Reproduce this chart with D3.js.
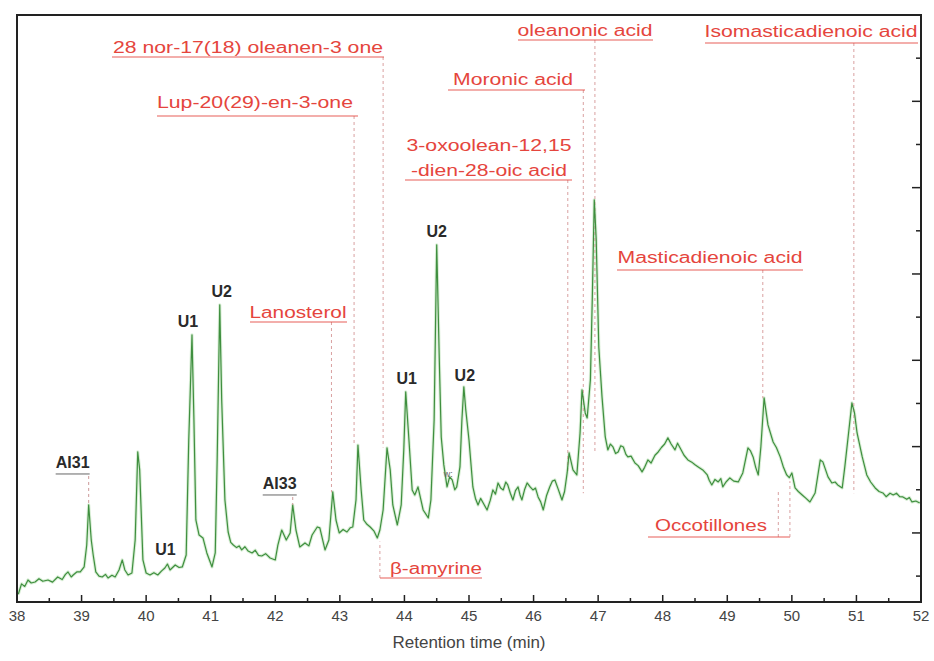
<!DOCTYPE html>
<html>
<head>
<meta charset="utf-8">
<script src="https://cdn.jsdelivr.net/npm/d3@7/dist/d3.min.js"></script>
<style>
  html, body { margin: 0; padding: 0; background: #fff; }
  svg { display: block; font-family: "Liberation Sans", Arial, sans-serif; }
</style>
</head>
<body>
<svg id="chart" width="934" height="661"></svg>
<script>
// Retention time (min) of each sample of the chromatogram trace
const times = [
  38.02, 38.07, 38.12, 38.17, 38.22, 38.28, 38.34, 38.40, 38.48, 38.55,
  38.63, 38.70, 38.75, 38.79, 38.84, 38.87, 38.93, 38.98, 39.04, 39.08,
  39.11, 39.15, 39.18, 39.22, 39.27, 39.32, 39.37, 39.41, 39.47, 39.52,
  39.58, 39.63, 39.67, 39.72, 39.78, 39.83, 39.87, 39.90, 39.95, 40.00,
  40.06, 40.12, 40.18, 40.24, 40.29, 40.33, 40.37, 40.45, 40.51, 40.56,
  40.62, 40.66, 40.71, 40.74, 40.77, 40.82, 40.88, 40.94, 41.02, 41.07,
  41.10, 41.14, 41.17, 41.22, 41.27, 41.31, 41.35, 41.40, 41.44, 41.48,
  41.53, 41.58, 41.64, 41.69, 41.74, 41.79, 41.85, 41.92, 42.00, 42.04,
  42.10, 42.17, 42.23, 42.27, 42.32, 42.38, 42.46, 42.52, 42.57, 42.65,
  42.69, 42.77, 42.83, 42.89, 42.94, 42.99, 43.05, 43.11, 43.16, 43.20,
  43.25, 43.28, 43.33, 43.37, 43.42, 43.47, 43.53, 43.58, 43.62, 43.67,
  43.73, 43.78, 43.82, 43.89, 43.95, 43.99, 44.02, 44.07, 44.12, 44.16,
  44.21, 44.29, 44.37, 44.41, 44.46, 44.50, 44.54, 44.57, 44.61, 44.66,
  44.70, 44.74, 44.78, 44.81, 44.86, 44.89, 44.92, 44.95, 45.00, 45.06,
  45.10, 45.14, 45.18, 45.22, 45.28, 45.33, 45.37, 45.41, 45.45, 45.49,
  45.53, 45.57, 45.60, 45.64, 45.68, 45.72, 45.76, 45.79, 45.82, 45.86,
  45.90, 45.95, 45.99, 46.03, 46.07, 46.11, 46.15, 46.20, 46.25, 46.29,
  46.33, 46.38, 46.44, 46.48, 46.52, 46.55, 46.61, 46.67, 46.72, 46.75,
  46.80, 46.83, 46.88, 46.91, 46.94, 46.97, 46.98, 47.01, 47.06, 47.11,
  47.15, 47.19, 47.23, 47.27, 47.31, 47.35, 47.39, 47.43, 47.46, 47.51,
  47.57, 47.62, 47.68, 47.72, 47.77, 47.82, 47.88, 47.93, 47.98, 48.03,
  48.08, 48.13, 48.19, 48.23, 48.27, 48.33, 48.39, 48.45, 48.50, 48.55,
  48.62, 48.69, 48.72, 48.76, 48.81, 48.86, 48.90, 48.93, 48.98, 49.04,
  49.10, 49.17, 49.24, 49.32, 49.36, 49.40, 49.44, 49.48, 49.52, 49.57,
  49.63, 49.71, 49.76, 49.82, 49.87, 49.92, 49.96, 50.00, 50.05, 50.10,
  50.16, 50.22, 50.28, 50.36, 50.44, 50.48, 50.56, 50.62, 50.67, 50.71,
  50.78, 50.82, 50.88, 50.93, 50.97, 51.01, 51.09, 51.16, 51.22, 51.29,
  51.35, 51.41, 51.46, 51.52, 51.57, 51.62, 51.67, 51.72, 51.78, 51.82,
  51.86, 51.92, 51.98
];
// Detector response at each of those times
const intensity = [
  2.90, 4.10, 3.80, 4.55, 4.20, 4.32, 4.70, 4.40, 4.55, 4.30,
  4.90, 4.60, 5.20, 5.48, 4.90, 5.13, 5.50, 5.48, 6.06, 8.60,
  13.24, 9.18, 7.45, 5.48, 5.00, 4.90, 5.20, 4.78, 5.10, 4.90,
  5.71, 6.87, 5.71, 5.13, 5.36, 9.18, 19.38, 17.30, 6.87, 5.36,
  5.13, 5.40, 5.13, 5.60, 5.94, 6.40, 5.71, 6.29, 6.00, 6.06,
  7.45, 20.77, 32.94, 23.09, 11.50, 9.76, 9.42, 7.68, 6.06, 7.68,
  18.46, 36.42, 25.41, 13.82, 10.11, 8.90, 8.60, 8.30, 8.50, 8.03,
  8.40, 7.90, 7.68, 8.00, 7.40, 7.33, 7.60, 7.10, 6.87, 8.60,
  10.34, 9.18, 10.00, 13.24, 10.34, 8.37, 8.84, 8.50, 9.76, 10.69,
  10.58, 8.03, 9.18, 14.75, 11.50, 10.00, 10.40, 10.11, 10.60, 10.69,
  13.82, 20.19, 14.98, 11.50, 11.00, 10.69, 10.20, 9.42, 10.34, 12.66,
  19.85, 17.30, 13.24, 10.92, 13.24, 19.62, 26.34, 20.77, 14.98, 14.40,
  15.33, 12.66, 11.74, 13.82, 23.09, 43.38, 30.05, 21.12, 17.88, 15.33,
  16.50, 16.14, 15.00, 15.33, 17.65, 23.09, 26.92, 24.25, 20.77, 15.33,
  14.00, 13.24, 14.00, 13.47, 12.66, 13.80, 14.98, 14.50, 15.79, 15.20,
  14.98, 15.90, 15.56, 14.60, 13.82, 14.90, 15.33, 14.40, 13.82, 15.00,
  15.79, 15.30, 14.98, 15.20, 14.17, 13.60, 12.66, 14.30, 15.33, 16.00,
  16.14, 15.10, 13.82, 14.80, 16.95, 19.27, 17.30, 16.72, 21.58, 26.57,
  23.90, 23.32, 27.73, 37.35, 48.59, 43.95, 40.83, 31.55, 25.76, 21.12,
  19.62, 20.30, 19.96, 19.20, 19.38, 20.10, 19.96, 19.10, 18.81, 18.90,
  18.11, 17.80, 17.07, 17.60, 18.46, 18.10, 19.00, 19.38, 19.90, 20.30,
  21.01, 20.30, 19.62, 20.40, 19.85, 19.00, 18.46, 18.20, 17.90, 17.65,
  17.30, 16.72, 16.10, 15.56, 16.20, 15.91, 16.30, 15.33, 15.90, 16.37,
  16.00, 15.91, 16.95, 19.85, 19.50, 18.81, 17.60, 16.72, 19.96, 25.64,
  22.51, 20.54, 19.90, 18.81, 17.60, 16.72, 16.40, 16.95, 15.21, 14.80,
  14.40, 14.00, 13.59, 14.63, 18.46, 18.23, 16.49, 15.79, 15.90, 15.56,
  15.21, 17.65, 21.70, 25.06, 23.90, 21.58, 18.81, 16.72, 15.90, 15.21,
  14.80, 14.63, 14.20, 14.60, 14.40, 14.60, 14.20, 14.17, 13.90, 14.10,
  13.59, 13.70, 13.47
];

// Axis ticks
const xTicks = d3.range(38, 52.01, 1);
const xMinorTicks = d3.range(38.5, 52, 1);
const yTicks = d3.range(10, 70, 10);
const yMinorTicks = d3.range(5, 70, 10);

// Identified compounds: name lines and retention time of the marked peak
const compoundNames = [
  ["28 nor-17(18) oleanen-3 one"],
  ["Lup-20(29)-en-3-one"],
  ["Lanosterol"],
  ["3-oxoolean-12,15", "-dien-28-oic acid"],
  ["Moronic acid"],
  ["oleanonic acid"],
  ["Isomasticadienoic acid"],
  ["Masticadienoic acid"],
  ["β-amyrine"],
  ["Occotillones"]
];
const compoundTimes = [43.67, 43.22, 42.87, 46.53, 46.77, 46.95, 50.96, 49.55, 43.62, 49.79];
const compoundLineEnd = [19.9, 20.2, 14.7, 16.9, 14.6, 19.3, 14.6, 25.6, 9.0, 15.0];

// Peak markers drawn in black
const peakNames = ["AI31", "AI33", "U1", "U1", "U2", "U1", "U2", "U2"];
const peakTimes = [39.11, 42.27, 40.30, 40.71, 41.14, 44.02, 44.50, 44.92];
const peakHeights = [13.24, 13.24, 8.1, 32.94, 36.42, 26.34, 43.38, 26.92];

const svg = d3.select("#chart");
const margin = { left: 17, top: 15, right: 13, bottom: 59 };
const W = 934, H = 661;
const x = d3.scaleLinear().domain([38, 52]).range([margin.left, W - margin.right]);
const y = d3.scaleLinear().domain([2, 70]).range([H - margin.bottom, margin.top]);

const red = "#e5453d";
const dashCol = "#d9a0a0";

// ---- trace ----
const pts = times.map((t, i) => [t, intensity[i]]);
const line = d3.line().x(d => x(d[0])).y(d => y(d[1]));

// soft halo under the trace
svg.append("path").datum(pts).attr("d", line)
  .attr("fill", "none").attr("stroke", "#b9e0b5").attr("stroke-width", 3.2)
  .attr("stroke-linejoin", "round").attr("opacity", 0.55);

// ---- compound annotations (layout per label) ----
const labelLayout = [
  { cx: 248, y: [47], len: [270], ul: [112, 384, 57] },
  { cx: 255, y: [102], len: [196], ul: [157, 358, 116] },
  { cx: 298, y: [312], len: [97], ul: [250, 347, 322] },
  { cx: 489, y: [145, 170], len: [165, 156], ul: [405, 572, 180] },
  { cx: 513, y: [79], len: [120], ul: [448, 585, 90] },
  { cx: 585, y: [30], len: [135], ul: [518, 653, 40] },
  { cx: 811, y: [31], len: [213], ul: [705, 918, 43] },
  { cx: 710, y: [257], len: [185], ul: [617, 803, 270] },
  { cx: 436, y: [568], len: [92], ul: [380, 482, 578] },
  { cx: 711, y: [525], len: [112], ul: [648, 790, 537] }
];

const ann = svg.append("g");
compoundNames.forEach((lines, i) => {
  const L = labelLayout[i];
  const px = x(compoundTimes[i]);
  const yEnd = y(compoundLineEnd[i]);
  const ulY = L.ul[2];
  // dashed leader to the peak
  ann.append("line")
    .attr("x1", px).attr("x2", px)
    .attr("y1", ulY).attr("y2", yEnd)
    .attr("stroke", dashCol).attr("stroke-width", 1).attr("stroke-dasharray", "3,3");
  lines.forEach((txt, k) => {
    ann.append("text")
      .attr("x", L.cx - L.len[k] / 2).attr("y", L.y[k])
      .attr("dy", "0.35em")
      .attr("textLength", L.len[k]).attr("lengthAdjust", "spacingAndGlyphs")
      .attr("font-size", 16).attr("fill", red)
      .text(txt);
  });
  ann.append("line")
    .attr("x1", L.ul[0]).attr("x2", L.ul[1]).attr("y1", ulY).attr("y2", ulY)
    .attr("stroke", red).attr("stroke-width", 1.2).attr("opacity", 0.85);
});
// second leader for the Occotillones group
ann.append("line")
  .attr("x1", x(49.97)).attr("x2", x(49.97))
  .attr("y1", 537).attr("y2", y(16.0))
  .attr("stroke", dashCol).attr("stroke-width", 1).attr("stroke-dasharray", "3,3");

// ---- trace itself ----
svg.append("path").datum(pts).attr("d", line)
  .attr("fill", "none").attr("stroke", "#3f8f3f").attr("stroke-width", 1.2)
  .attr("stroke-linejoin", "round");

// ---- black peak labels ----
const peakLayout = [
  { dx: -16, dy: -43, ul: true },
  { dx: -13, dy: -22, ul: true },
  { dx: 0, dy: 0, ul: false },
  { dx: -4, dy: -14, ul: false },
  { dx: 2, dy: -13, ul: false },
  { dx: 1, dy: -13, ul: false },
  { dx: 0, dy: -13, ul: false },
  { dx: 1, dy: -11, ul: false }
];
peakNames.forEach((name, i) => {
  const P = peakLayout[i];
  const px = x(peakTimes[i]) + P.dx;
  const py = y(peakHeights[i]) + P.dy;
  svg.append("text")
    .attr("x", px).attr("y", py).attr("dy", "0.35em")
    .attr("text-anchor", "middle")
    .attr("font-size", 16).attr("font-weight", "bold").attr("fill", "#2a2a2a")
    .text(name);
  if (P.ul) {
    svg.append("line")
      .attr("x1", px - 17).attr("x2", px + 17)
      .attr("y1", py + 12).attr("y2", py + 12)
      .attr("stroke", "#666").attr("stroke-width", 1);
    svg.append("line")
      .attr("x1", x(peakTimes[i])).attr("x2", x(peakTimes[i]))
      .attr("y1", py + 14).attr("y2", y(peakHeights[i]))
      .attr("stroke", "#c99").attr("stroke-width", 1).attr("stroke-dasharray", "3,3");
  }
});
// small mark between the U2 peaks
svg.append("text").attr("x", x(44.68)).attr("y", y(16.9)).attr("dy", "0.35em")
  .attr("text-anchor", "middle").attr("font-size", 9).attr("fill", "#666").text("w:");

// ---- frame and axes ----
const x0 = x.range()[0], x1 = x.range()[1];
const y0 = y.range()[0], y1 = y.range()[1];
svg.append("rect").attr("x", x0).attr("y", y1).attr("width", x1 - x0).attr("height", y0 - y1)
  .attr("fill", "none").attr("stroke", "#222").attr("stroke-width", 2);

const bottom = svg.append("g").attr("transform", `translate(0,${y0})`);
bottom.selectAll("line.maj").data(xTicks).join("line")
  .attr("x1", d => x(d)).attr("x2", d => x(d)).attr("y1", 0).attr("y2", -7)
  .attr("stroke", "#222").attr("stroke-width", 1.5);
bottom.selectAll("line.min").data(xMinorTicks).join("line")
  .attr("x1", d => x(d)).attr("x2", d => x(d)).attr("y1", 0).attr("y2", -4)
  .attr("stroke", "#222").attr("stroke-width", 1.5);
bottom.selectAll("text").data(xTicks).join("text")
  .attr("x", d => x(d)).attr("y", 19)
  .attr("text-anchor", "middle").attr("font-size", 15).attr("fill", "#444")
  .text(d => d3.format("d")(d));

const right = svg.append("g").attr("transform", `translate(${x1},0)`);
right.selectAll("line.maj").data(yTicks).join("line")
  .attr("x1", 0).attr("x2", -9).attr("y1", d => y(d)).attr("y2", d => y(d))
  .attr("stroke", "#222").attr("stroke-width", 1.5);
right.selectAll("line.min").data(yMinorTicks).join("line")
  .attr("x1", 0).attr("x2", -5).attr("y1", d => y(d)).attr("y2", d => y(d))
  .attr("stroke", "#222").attr("stroke-width", 1.5);

svg.append("text").attr("x", (x0 + x1) / 2).attr("y", 648)
  .attr("text-anchor", "middle").attr("font-size", 17).attr("fill", "#444")
  .text("Retention time (min)");
</script>
</body>
</html>
